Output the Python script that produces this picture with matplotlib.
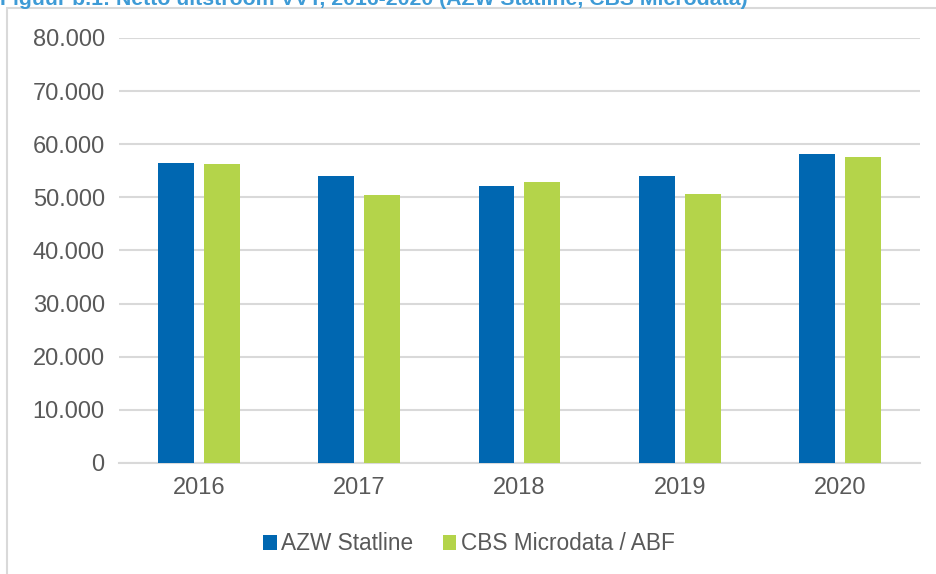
import numpy as np
import matplotlib
matplotlib.use("Agg")
import matplotlib.pyplot as plt
from matplotlib.patches import Rectangle
from matplotlib.ticker import FuncFormatter

# values
years = ["2016", "2017", "2018", "2019", "2020"]
azw_statline = [56400, 54100, 52200, 54000, 58200]
cbs_microdata = [56200, 50400, 52900, 50600, 57600]

blue = "#0067B1"
green = "#B4D44A"
grey_text = "#595959"
grid_col = "#D9D9D9"

plt.rcParams["font.family"] = ["Liberation Sans", "DejaVu Sans"]

fig = plt.figure(figsize=(9.37, 5.74), dpi=100)
ax = fig.add_axes([0.1266, 0.1934, 0.8554, 0.7406])

x = np.arange(len(years))
w = 0.224
off = 0.143
ax.bar(x - off, azw_statline, width=w, color=blue, label="AZW Statline", zorder=3)
ax.bar(x + off, cbs_microdata, width=w, color=green, label="CBS Microdata / ABF", zorder=3)

ax.set_xlim(-0.5, len(years) - 0.5)
ax.set_ylim(0, 80000)
ax.set_yticks(np.arange(0, 80001, 10000))
ax.yaxis.set_major_formatter(FuncFormatter(lambda v, p: "0" if v == 0 else f"{int(v):,}".replace(",", ".")))
ax.set_xticks(x)
ax.set_xticklabels(years)

ax.grid(axis="y", color=grid_col, linewidth=1.5, zorder=0)
for s in ["top", "right", "left"]:
    ax.spines[s].set_visible(False)
ax.spines["bottom"].set_color(grid_col)
ax.spines["bottom"].set_linewidth(1.5)
ax.tick_params(axis="both", length=0, labelsize=17, colors=grey_text)
ax.tick_params(axis="y", pad=10)
ax.tick_params(axis="x", pad=10)

fig.legend(loc="center", bbox_to_anchor=(469 / 937, 1 - 544 / 574), ncol=2,
           frameon=False, fontsize=16.3, handlelength=0.6, handleheight=0.6,
           handletextpad=0.2, columnspacing=1.3, labelcolor=grey_text)

# chart frame
fig.patches.append(Rectangle((7 / 937, -0.01), 1.0, 1 - 8 / 574 + 0.01,
                             transform=fig.transFigure, fill=False,
                             edgecolor="#D9D9D9", linewidth=1.5))

fig.text(0.0, 1 - 5 / 574, "Figuur b.1: Netto uitstroom VVT, 2016-2020 (AZW Statline, CBS Microdata)",
         color="#3E9BD6", fontsize=15.3, fontweight="bold", ha="left", va="baseline")

fig.savefig("out.png", dpi=100)
